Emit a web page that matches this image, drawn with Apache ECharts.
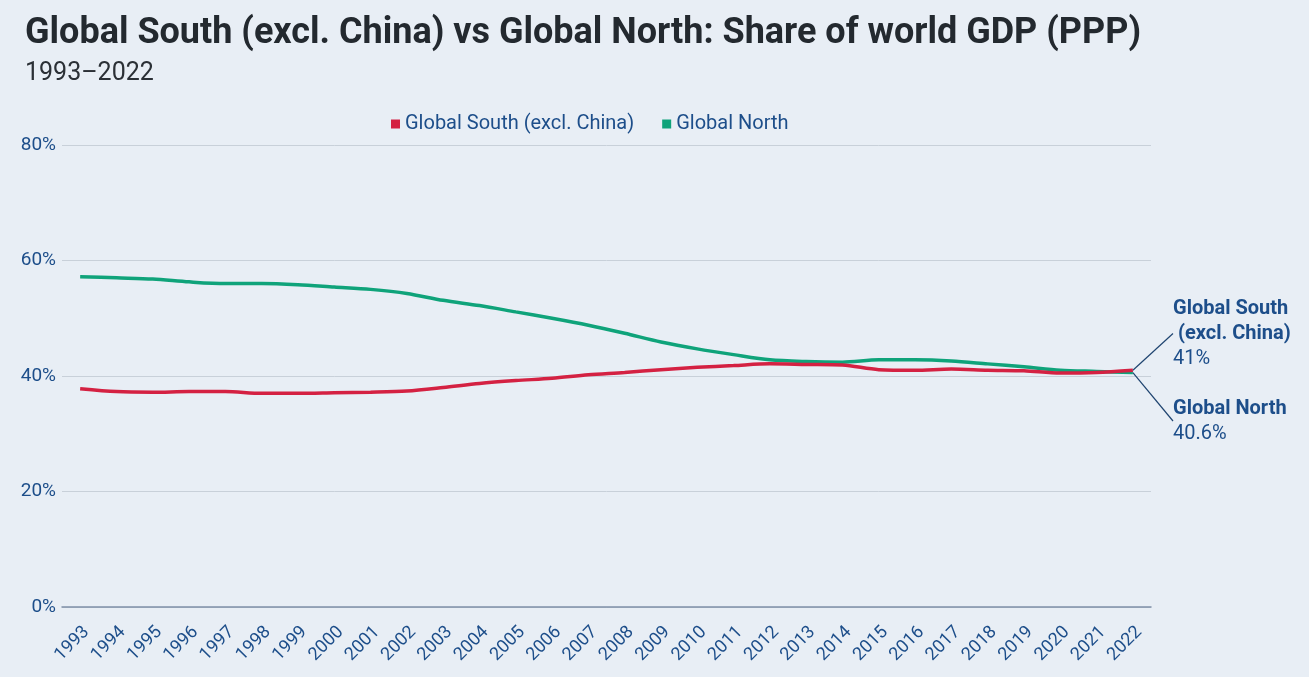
<!DOCTYPE html>
<html>
<head>
<meta charset="utf-8">
<script src="https://cdn.jsdelivr.net/npm/echarts@6/dist/echarts.min.js"></script>
<style>
html,body{margin:0;padding:0;background:#e8eef5;}
#chart{width:1309px;height:677px;}
</style>
</head>
<body>
<div id="chart"></div>
<script>
const years = ['1993','1994','1995','1996','1997','1998','1999','2000','2001','2002','2003','2004','2005','2006','2007','2008','2009','2010','2011','2012','2013','2014','2015','2016','2017','2018','2019','2020','2021','2022'];
const globalSouth = [37.8,37.3,37.2,37.3,37.3,37.0,37.0,37.1,37.2,37.4,38.0,38.7,39.2,39.6,40.2,40.6,41.1,41.5,41.8,42.1,42.0,41.9,41.1,41.0,41.2,41.0,40.9,40.5,40.6,41.0];
const globalNorth = [57.2,57.0,56.8,56.3,56.0,56.0,55.8,55.4,55.0,54.3,53.1,52.2,51.1,50.0,48.8,47.4,45.9,44.7,43.7,42.8,42.5,42.4,42.8,42.8,42.6,42.1,41.6,41.0,40.8,40.6];
const yTicks = [0,20,40,60,80];
const seriesNames = ['Global South (excl. China)','Global North'];
const endNames = ['Global South\n (excl. China)','Global North'];

const RED = '#d42142';
const GREEN = '#0fa37a';
const BLUE = '#1d4e8a';
const fmtPct = v => (+v.toFixed(1)) + '%';

function withEndLabel(arr, idx) {
  const last = arr.length - 1;
  return arr.map((v, i) => {
    if (i !== last) return v;
    return {
      value: v,
      label: {
        show: true,
        formatter: () => '{b|' + endNames[idx] + '}\n{n|' + fmtPct(v) + '}',
        rich: {
          b: {fontFamily: 'Roboto', fontWeight: 'bold', fontSize: 20, color: BLUE, lineHeight: 25},
          n: {fontFamily: 'Roboto', fontSize: 20, color: BLUE, lineHeight: 25}
        }
      }
    };
  });
}

const chart = echarts.init(document.getElementById('chart'), null, {renderer: 'canvas'});
chart.setOption({
  backgroundColor: '#e8eef5',
  animation: false,
  title: {
    text: 'Global South (excl. China) vs Global North: Share of world GDP (PPP)',
    subtext: '1993–2022',
    left: 20, top: 11,
    itemGap: 9,
    textStyle: {fontFamily: 'Roboto', fontWeight: 'bold', fontSize: 36, color: '#23292f'},
    subtextStyle: {fontFamily: 'Roboto', fontSize: 25, color: '#2b3036'}
  },
  legend: {
    data: seriesNames,
    left: 386, top: 109,
    icon: 'rect', itemWidth: 9, itemHeight: 9, itemGap: 28,
    textStyle: {fontFamily: 'Roboto', fontSize: 20, color: BLUE}
  },
  grid: {left: 62, right: 158, top: 145, bottom: 70, containLabel: false},
  xAxis: {
    type: 'category',
    data: years,
    boundaryGap: true,
    axisLine: {show: true, lineStyle: {color: '#7f90a8', width: 1.5}},
    axisTick: {show: false},
    axisLabel: {rotate: 45, fontFamily: 'Roboto', fontSize: 18, color: BLUE, margin: 16, interval: 0, verticalAlign: 'top'}
  },
  yAxis: {
    type: 'value',
    min: 0, max: 80, interval: 20,
    axisLine: {show: false},
    axisTick: {show: false},
    splitLine: {lineStyle: {color: '#c8d0d9', width: 1}},
    axisLabel: {fontFamily: 'Roboto', fontSize: 19, color: BLUE, margin: 6, formatter: v => v + '%'}
  },
  series: [
    {
      name: seriesNames[0], type: 'line', smooth: 0.3,
      data: withEndLabel(globalSouth, 0),
      showSymbol: true, symbol: 'circle', symbolSize: 0.1,
      itemStyle: {color: RED},
      lineStyle: {color: RED, width: 3.5},
      labelLayout: {x: 1173, y: 296, align: 'left', verticalAlign: 'top'},
      labelLine: {show: true, lineStyle: {color: '#1f4470', width: 1.2}},
      z: 3
    },
    {
      name: seriesNames[1], type: 'line', smooth: 0.3,
      data: withEndLabel(globalNorth, 1),
      showSymbol: true, symbol: 'circle', symbolSize: 0.1,
      itemStyle: {color: GREEN},
      lineStyle: {color: GREEN, width: 3.5},
      labelLayout: {x: 1173, y: 396, align: 'left', verticalAlign: 'top'},
      labelLine: {show: true, lineStyle: {color: '#1f4470', width: 1.2}},
      z: 2
    }
  ]
});
</script>
</body>
</html>
